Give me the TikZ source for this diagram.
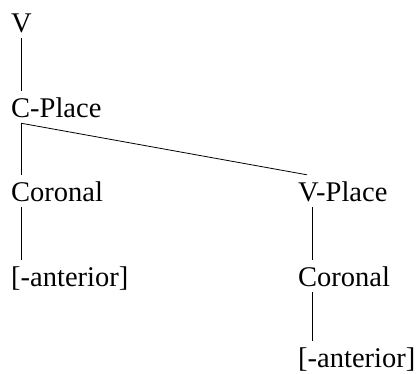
\documentclass[tikz,border=0pt]{standalone}
\usepackage{fontspec}
\setmainfont{Liberation Serif}
\usepackage{tikz}
\definecolor{ink}{HTML}{000000}
\tikzset{
  lab/.style={text=ink, anchor=base west, inner xsep=0pt, inner ysep=6pt,
    text height=20pt, text depth=0pt, font=\fontsize{28.5}{34}\selectfont},
  link/.style={draw=ink, line width=0.8pt, line cap=butt},
}

\begin{document}
\begin{tikzpicture}[x=1pt,y=-1pt]
  \useasboundingbox (0,0) rectangle (417,373);
  \node[lab] (v)      at (11,32)  {V};
  \node[lab] (cplace) at (11,117) {C-Place};
  \node[lab] (lcor)   at (11,201) {Coronal};
  \node[lab] (lant)   at (11,286) {[-anterior]};
  \node[lab] (vplace) at (298,201) {V-Place};
  \node[lab] (rcor)   at (298,286) {Coronal};
  \node[lab] (rant)   at (298,367) {[-anterior]};
  \draw[link] ([xshift=10pt]v.south west) -- ([xshift=10pt]cplace.north west);
  \draw[link] ([xshift=10pt]cplace.south west) -- ([xshift=10pt]lcor.north west);
  \draw[link] ([xshift=10pt]lcor.south west) -- ([xshift=10pt]lant.north west);
  \draw[link] ([xshift=10pt]cplace.south west) -- ([xshift=9pt]vplace.north west);
  \draw[link] ([xshift=14pt]vplace.south west) -- ([xshift=14pt]rcor.north west);
  \draw[link] ([xshift=14pt]rcor.south west) -- ([xshift=14pt]rant.north west);
\end{tikzpicture}
\end{document}
